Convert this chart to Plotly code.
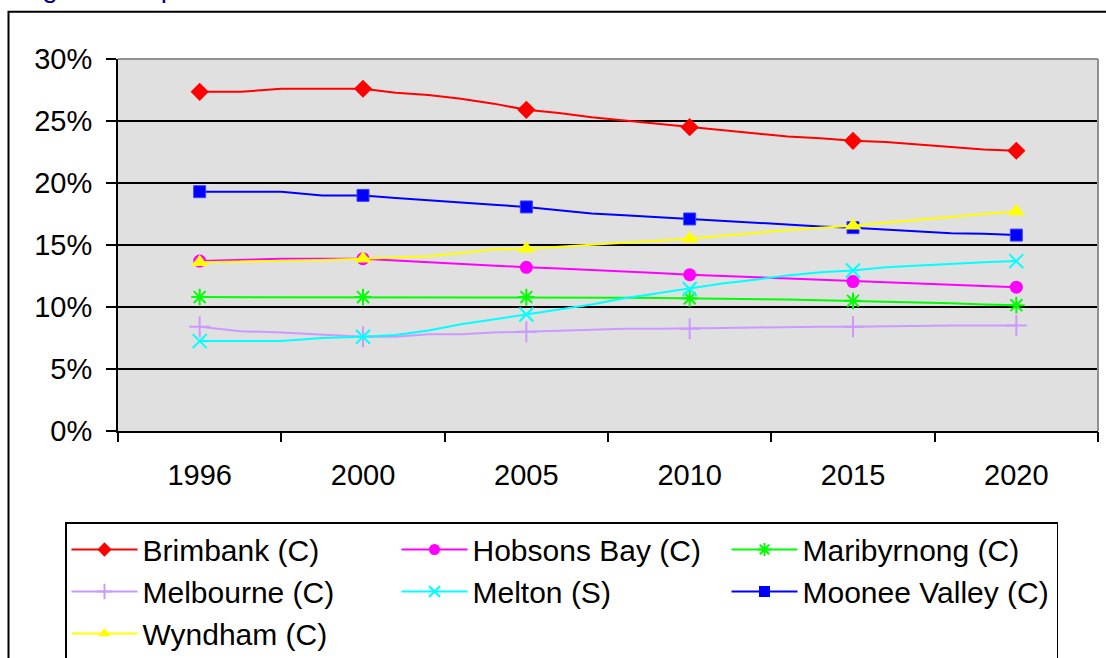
import numpy as np
import plotly.graph_objects as go

# ---------------- data ----------------
label_years = [1996, 2000, 2005, 2010, 2015, 2020]
years = list(range(1996, 2021))

brimbank = [27.35, 27.35, 27.6, 27.6, 27.6,
            27.27, 27.1, 26.8, 26.4, 25.9,
            25.65, 25.3, 25.05, 24.8, 24.5,
            24.3, 24.0, 23.75, 23.6, 23.4,
            23.3, 23.1, 22.9, 22.7, 22.6]
hobsons_bay = [13.7, 13.8, 13.9, 13.9, 13.9,
               13.75, 13.6, 13.45, 13.35, 13.2,
               13.1, 13.0, 12.85, 12.75, 12.6,
               12.5, 12.4, 12.25, 12.15, 12.05,
               11.95, 11.85, 11.75, 11.65, 11.6]
maribyrnong = [10.8, 10.8, 10.8, 10.8, 10.8,
               10.8, 10.8, 10.8, 10.8, 10.8,
               10.8, 10.8, 10.75, 10.72, 10.7,
               10.65, 10.6, 10.6, 10.55, 10.5,
               10.45, 10.4, 10.3, 10.2, 10.15]
melbourne = [8.4, 8.05, 7.95, 7.8, 7.6,
             7.6, 7.8, 7.8, 7.95, 8.0,
             8.1, 8.2, 8.25, 8.25, 8.25,
             8.3, 8.35, 8.4, 8.4, 8.4,
             8.45, 8.5, 8.5, 8.5, 8.5]
melton = [7.25, 7.25, 7.25, 7.5, 7.6,
          7.75, 8.1, 8.6, 9.0, 9.4,
          9.8, 10.2, 10.7, 11.1, 11.45,
          11.9, 12.2, 12.55, 12.8, 12.95,
          13.2, 13.35, 13.45, 13.6, 13.7]
moonee_valley = [19.3, 19.3, 19.3, 19.0, 19.0,
                 18.8, 18.6, 18.4, 18.25, 18.07,
                 17.8, 17.55, 17.4, 17.25, 17.1,
                 16.95, 16.75, 16.6, 16.5, 16.4,
                 16.25, 16.1, 15.95, 15.9, 15.8]
wyndham = [13.6, 13.65, 13.75, 13.8, 13.9,
           14.0, 14.1, 14.35, 14.65, 14.7,
           14.85, 15.0, 15.2, 15.35, 15.5,
           15.75, 16.0, 16.2, 16.4, 16.55,
           16.8, 17.05, 17.3, 17.5, 17.7]

series_names = ["Brimbank (C)", "Hobsons Bay (C)", "Maribyrnong (C)",
                "Melbourne (C)", "Melton (S)", "Moonee Valley (C)", "Wyndham (C)"]
series_values = [brimbank, hobsons_bay, maribyrnong, melbourne, melton,
                 moonee_valley, wyndham]
title_text = "Figure 4.1: per cent"

# ---------------- styles ----------------
colors = ["#FF0000", "#FF00FF", "#00FF00", "#CC99FF", "#00FFFF", "#0000FF", "#FFFF00"]
symbols = ["diamond", "circle", "asterisk-open", "cross-thin-open", "x-thin-open",
           "square", "triangle-up"]
sizes = [14, 13, 14, 15, 14, 12, 15]
FONT = "Arial, Liberation Sans, sans-serif"

# figure is slightly taller than the window so the legend frame can sit low
W, H = 1106, 668
ML, MR, MT = 118, 8, 59
PLOT_BOTTOM = 432
MB = H - PLOT_BOTTOM
PW, PH = W - ML - MR, PLOT_BOTTOM - MT


def px_x(p):
    return (p - ML) / PW


def px_y(p):
    return (PLOT_BOTTOM - p) / PH


# category scale: each labelled year sits on one evenly spaced category slot
cat_idx = list(range(len(label_years)))
xpos = np.interp(years, label_years, cat_idx)
mark_idx = [years.index(y) for y in label_years]

fig = go.Figure()
for name, vals, c, s, sz in zip(series_names, series_values, colors, symbols, sizes):
    v = np.array(vals) / 100.0
    fig.add_trace(go.Scatter(x=xpos, y=v, mode="lines", line=dict(color=c, width=2),
                             showlegend=False, hoverinfo="skip"))
    mline = dict(color=c, width=2) if s.endswith("open") else dict(color=c, width=0)
    if s == "square":
        mline = dict(color="#4040FF", width=1)
    fig.add_trace(go.Scatter(x=[xpos[i] for i in mark_idx], y=[v[i] for i in mark_idx],
                             mode="markers",
                             marker=dict(symbol=s, size=sz, color=c, line=mline),
                             showlegend=False))

# legend entries
for name, c, s in zip(series_names, colors, symbols):
    mline = dict(color=c, width=2) if s.endswith("open") else dict(color=c, width=0)
    fig.add_trace(go.Scatter(x=[None], y=[None], mode="lines+markers", name=name,
                             line=dict(color=c, width=2),
                             marker=dict(symbol=s, size=11, color=c, line=mline)))

fig.update_layout(
    width=W, height=H,
    margin=dict(l=ML, r=MR, t=MT, b=MB),
    paper_bgcolor="white",
    plot_bgcolor="#E0E0E0",
    font=dict(family=FONT, size=29, color="black"),
    xaxis=dict(range=[-0.5, len(label_years) - 0.5], tickmode="array",
               tickvals=cat_idx, ticktext=[str(y) for y in label_years],
               ticks="", showgrid=False, zeroline=False, automargin=False,
               showline=True, linecolor="black", linewidth=2,
               tickfont=dict(size=29), ticklabelstandoff=17),
    xaxis2=dict(range=[-0.5, len(label_years) - 0.5], overlaying="x", side="bottom",
                tickmode="linear", tick0=-0.5, dtick=1, ticks="outside", ticklen=10,
                tickwidth=2, tickcolor="black", showticklabels=False, automargin=False,
                showgrid=False, zeroline=False, showline=False),
    yaxis=dict(range=[0, 0.30], dtick=0.05, tickformat=".0%", automargin=False,
               showgrid=True, gridcolor="black", gridwidth=1.5,
               zeroline=False, showline=True, linecolor="black", linewidth=2,
               ticks="outside", ticklen=10, tickwidth=2, tickcolor="black",
               tickfont=dict(size=29), ticklabelstandoff=8),
    legend=dict(orientation="h", x=px_x(65), y=px_y(522),
                xanchor="left", yanchor="top",
                bordercolor="black", borderwidth=1.5, bgcolor="white",
                font=dict(size=30), entrywidth=249, entrywidthmode="pixels",
                itemwidth=66, traceorder="normal"),
    showlegend=True,
)
# dummy trace to activate xaxis2 ticks
fig.add_trace(go.Scatter(x=[None], y=[None], xaxis="x2", showlegend=False))

# plot-area top/right border (gray) and outer frame
fig.add_shape(type="line", xref="paper", yref="paper", x0=0, x1=1, y0=1, y1=1,
              line=dict(color="#909090", width=2))
fig.add_shape(type="line", xref="paper", yref="paper", x0=1, x1=1, y0=0, y1=1,
              line=dict(color="#909090", width=2))
fig.add_shape(type="rect", xref="paper", yref="paper",
              x0=px_x(8.5), x1=px_x(1130), y0=px_y(700), y1=px_y(11.5),
              line=dict(color="black", width=2))
fig.add_annotation(text=title_text, xref="paper", yref="paper",
                   x=px_x(17), y=px_y(4.5), xanchor="left", yanchor="bottom",
                   showarrow=False, font=dict(size=28, color="#000099", family=FONT))

fig.write_html(
    "out.html",
    config={"displayModeBar": False},
    post_script="document.body.style.margin='0';document.body.style.overflow='hidden';",
)
